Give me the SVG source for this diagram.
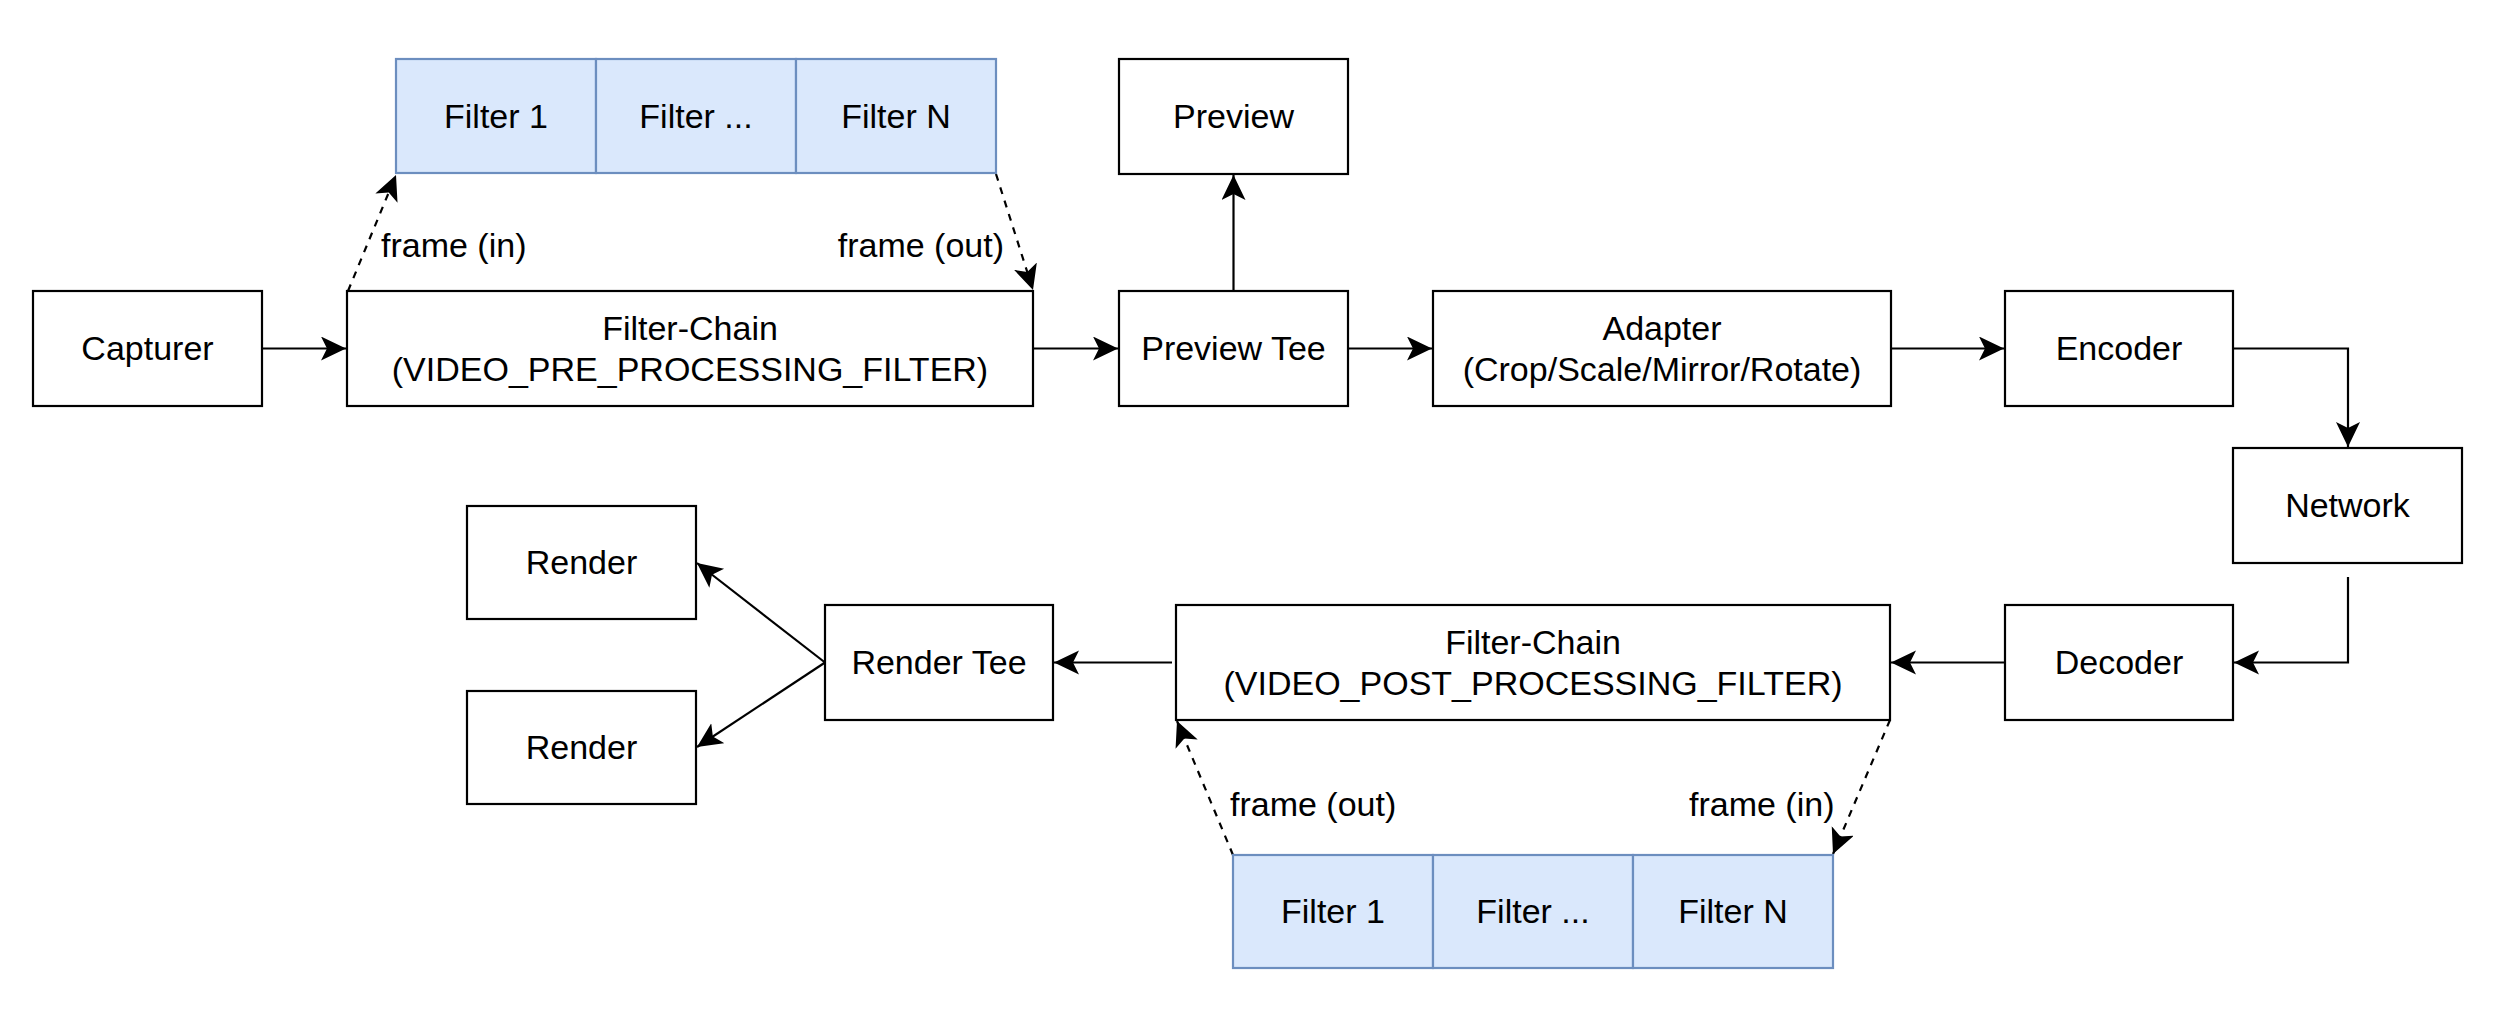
<svg xmlns="http://www.w3.org/2000/svg" width="2502" height="1034" viewBox="0 0 2502 1034">
<style>
.box{fill:#ffffff;stroke:#000000;stroke-width:2.2}
.flt{fill:#dae8fc;stroke:#6c8ebf;stroke-width:2.2}
.t{font-family:"Liberation Sans",Arial,Helvetica,sans-serif;font-size:34px;fill:#000000;text-anchor:middle}
.l{font-family:"Liberation Sans",Arial,Helvetica,sans-serif;font-size:34px;fill:#000000}
.c{fill:none;stroke:#000000;stroke-width:2.2}
.d{fill:none;stroke:#000000;stroke-width:2.2;stroke-dasharray:7 7}
</style>
<defs>
<marker id="ah" markerUnits="userSpaceOnUse" markerWidth="30" markerHeight="30" refX="25" refY="12" orient="auto">
<path d="M0,0 L25,12 L0,24 L6,12 Z" fill="#000000"/>
</marker>
</defs>
<rect width="2502" height="1034" fill="#ffffff"/>
<g id="connectors">
<path class="c" d="M262,348.5 L346,348.5" marker-end="url(#ah)"/>
<path class="c" d="M1033,348.5 L1118,348.5" marker-end="url(#ah)"/>
<path class="c" d="M1233.5,291 L1233.5,175" marker-end="url(#ah)"/>
<path class="c" d="M1348,348.5 L1432,348.5" marker-end="url(#ah)"/>
<path class="c" d="M1891,348.5 L2004,348.5" marker-end="url(#ah)"/>
<path class="c" d="M2233,348.5 L2348,348.5 L2348,447" marker-end="url(#ah)"/>
<path class="c" d="M2348,577 L2348,662.5 L2234,662.5" marker-end="url(#ah)"/>
<path class="c" d="M2005,662.5 L1891,662.5" marker-end="url(#ah)"/>
<path class="c" d="M1172,662.5 L1054,662.5" marker-end="url(#ah)"/>
<path class="c" d="M825,662.5 L697,563" marker-end="url(#ah)"/>
<path class="c" d="M825,662.5 L697,747" marker-end="url(#ah)"/>
<path class="d" d="M348,291 L396,175" marker-end="url(#ah)"/>
<path class="d" d="M996,174 L1033,290" marker-end="url(#ah)"/>
<path class="d" d="M1890,720 L1833,854" marker-end="url(#ah)"/>
<path class="d" d="M1233,855 L1177,721" marker-end="url(#ah)"/>
<text class="l" x="381" y="257">frame (in)</text>
<text class="l" x="1004" y="257" text-anchor="end">frame (out)</text>
<text class="l" x="1230" y="816">frame (out)</text>
<text class="l" x="1689" y="816">frame (in)</text>
</g>
<g id="pre-filters">
<rect class="flt" x="396" y="59" width="200" height="114"/>
<rect class="flt" x="596" y="59" width="200" height="114"/>
<rect class="flt" x="796" y="59" width="200" height="114"/>
<text class="t" x="496" y="128">Filter 1</text>
<text class="t" x="696" y="128">Filter ...</text>
<text class="t" x="896" y="128">Filter N</text>
</g>
<g id="capturer">
<rect class="box" x="33" y="291" width="229" height="115"/>
<text class="t" x="147.5" y="360">Capturer</text>
</g>
<g id="pre-chain">
<rect class="box" x="347" y="291" width="686" height="115"/>
<text class="t" x="690" y="340">Filter-Chain</text>
<text class="t" x="690" y="381">(VIDEO_PRE_PROCESSING_FILTER)</text>
</g>
<g id="preview">
<rect class="box" x="1119" y="59" width="229" height="115"/>
<text class="t" x="1233.5" y="128">Preview</text>
</g>
<g id="preview-tee">
<rect class="box" x="1119" y="291" width="229" height="115"/>
<text class="t" x="1233.5" y="360">Preview Tee</text>
</g>
<g id="adapter">
<rect class="box" x="1433" y="291" width="458" height="115"/>
<text class="t" x="1662" y="340">Adapter</text>
<text class="t" x="1662" y="381">(Crop/Scale/Mirror/Rotate)</text>
</g>
<g id="encoder">
<rect class="box" x="2005" y="291" width="228" height="115"/>
<text class="t" x="2119" y="360">Encoder</text>
</g>
<g id="network">
<rect class="box" x="2233" y="448" width="229" height="115"/>
<text class="t" x="2347.5" y="517">Network</text>
</g>
<g id="decoder">
<rect class="box" x="2005" y="605" width="228" height="115"/>
<text class="t" x="2119" y="674">Decoder</text>
</g>
<g id="post-chain">
<rect class="box" x="1176" y="605" width="714" height="115"/>
<text class="t" x="1533" y="654">Filter-Chain</text>
<text class="t" x="1533" y="695">(VIDEO_POST_PROCESSING_FILTER)</text>
</g>
<g id="render-tee">
<rect class="box" x="825" y="605" width="228" height="115"/>
<text class="t" x="939" y="674">Render Tee</text>
</g>
<g id="render-1">
<rect class="box" x="467" y="506" width="229" height="113"/>
<text class="t" x="581.5" y="574">Render</text>
</g>
<g id="render-2">
<rect class="box" x="467" y="691" width="229" height="113"/>
<text class="t" x="581.5" y="759">Render</text>
</g>
<g id="post-filters">
<rect class="flt" x="1233" y="855" width="200" height="113"/>
<rect class="flt" x="1433" y="855" width="200" height="113"/>
<rect class="flt" x="1633" y="855" width="200" height="113"/>
<text class="t" x="1333" y="923">Filter 1</text>
<text class="t" x="1533" y="923">Filter ...</text>
<text class="t" x="1733" y="923">Filter N</text>
</g>
</svg>
